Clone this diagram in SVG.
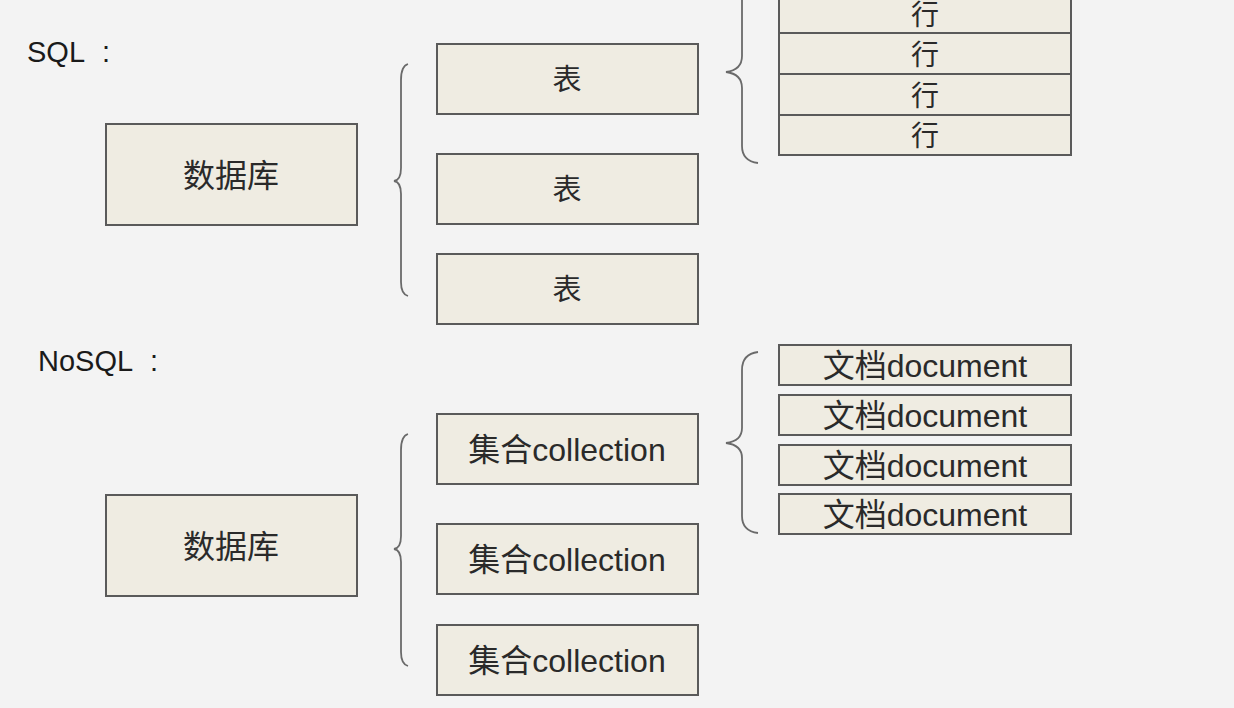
<svg xmlns="http://www.w3.org/2000/svg" width="1234" height="708" viewBox="0 0 1234 708">
<style>
.bx{fill:#efece2;stroke:#5a5a5a;stroke-width:2}
.t{font-family:"Liberation Sans","Noto Sans CJK SC",sans-serif;fill:#2a2a2a;text-anchor:middle;dominant-baseline:central}
.lbl{font-family:"Liberation Sans","Noto Sans CJK SC",sans-serif;fill:#1a1a1a;font-size:29px;word-spacing:10px}
.br{fill:none;stroke:#6a6a6a;stroke-width:1.8}
</style>
<rect width="1234" height="708" fill="#f3f3f3"/>
<text class="lbl" x="27" y="62">SQL :</text>
<text class="lbl" x="38" y="371">NoSQL :</text>
<g id="db1"><rect class="bx" x="106" y="124" width="251" height="101"/><text class="t" x="231" y="176" font-size="32">数据库</text></g>
<g id="table1"><rect class="bx" x="437" y="44" width="261" height="70"/><text class="t" x="567" y="80" font-size="29">表</text></g>
<g id="table2"><rect class="bx" x="437" y="154" width="261" height="70"/><text class="t" x="567" y="190" font-size="29">表</text></g>
<g id="table3"><rect class="bx" x="437" y="254" width="261" height="70"/><text class="t" x="567" y="290" font-size="29">表</text></g>
<g id="row1"><rect class="bx" x="779" y="-8" width="292" height="41"/><text class="t" x="925" y="15" font-size="28">行</text></g>
<g id="row2"><rect class="bx" x="779" y="33" width="292" height="41"/><text class="t" x="925" y="55" font-size="28">行</text></g>
<g id="row3"><rect class="bx" x="779" y="74" width="292" height="41"/><text class="t" x="925" y="96" font-size="28">行</text></g>
<g id="row4"><rect class="bx" x="779" y="115" width="292" height="40"/><text class="t" x="925" y="136" font-size="28">行</text></g>
<g id="db2"><rect class="bx" x="106" y="495" width="251" height="101"/><text class="t" x="231" y="547" font-size="32">数据库</text></g>
<g id="coll1"><rect class="bx" x="437" y="414" width="261" height="70"/><text class="t" x="567" y="450" font-size="32">集合collection</text></g>
<g id="coll2"><rect class="bx" x="437" y="524" width="261" height="70"/><text class="t" x="567" y="560" font-size="32">集合collection</text></g>
<g id="coll3"><rect class="bx" x="437" y="625" width="261" height="70"/><text class="t" x="567" y="661" font-size="32">集合collection</text></g>
<g id="doc1"><rect class="bx" x="779" y="345" width="292" height="40"/><text class="t" x="925" y="366" font-size="32">文档document</text></g>
<g id="doc2"><rect class="bx" x="779" y="395" width="292" height="40"/><text class="t" x="925" y="416" font-size="32">文档document</text></g>
<g id="doc3"><rect class="bx" x="779" y="445" width="292" height="40"/><text class="t" x="925" y="466" font-size="32">文档document</text></g>
<g id="doc4"><rect class="bx" x="779" y="494" width="292" height="40"/><text class="t" x="925" y="515" font-size="32">文档document</text></g>
<g id="connectors">
<path class="br" d="M408 64 Q401 66 401 80 L401 168 Q401 180 394 181 Q401 182 401 194 L401 282 Q401 294 408 296"/>
<path class="br" d="M408 434 Q401 436 401 450 L401 536 Q401 548 394 549 Q401 550 401 562 L401 652 Q401 664 408 666"/>
<path class="br" d="M758 -19 Q742 -17 742 0 L742 56 Q742 70 726 72 Q742 74 742 88 L742 146 Q742 161 758 163"/>
<path class="br" d="M758 352 Q742 354 742 370 L742 428 Q742 441 726 443 Q742 445 742 458 L742 516 Q742 531 758 533"/>
</g>
</svg>
